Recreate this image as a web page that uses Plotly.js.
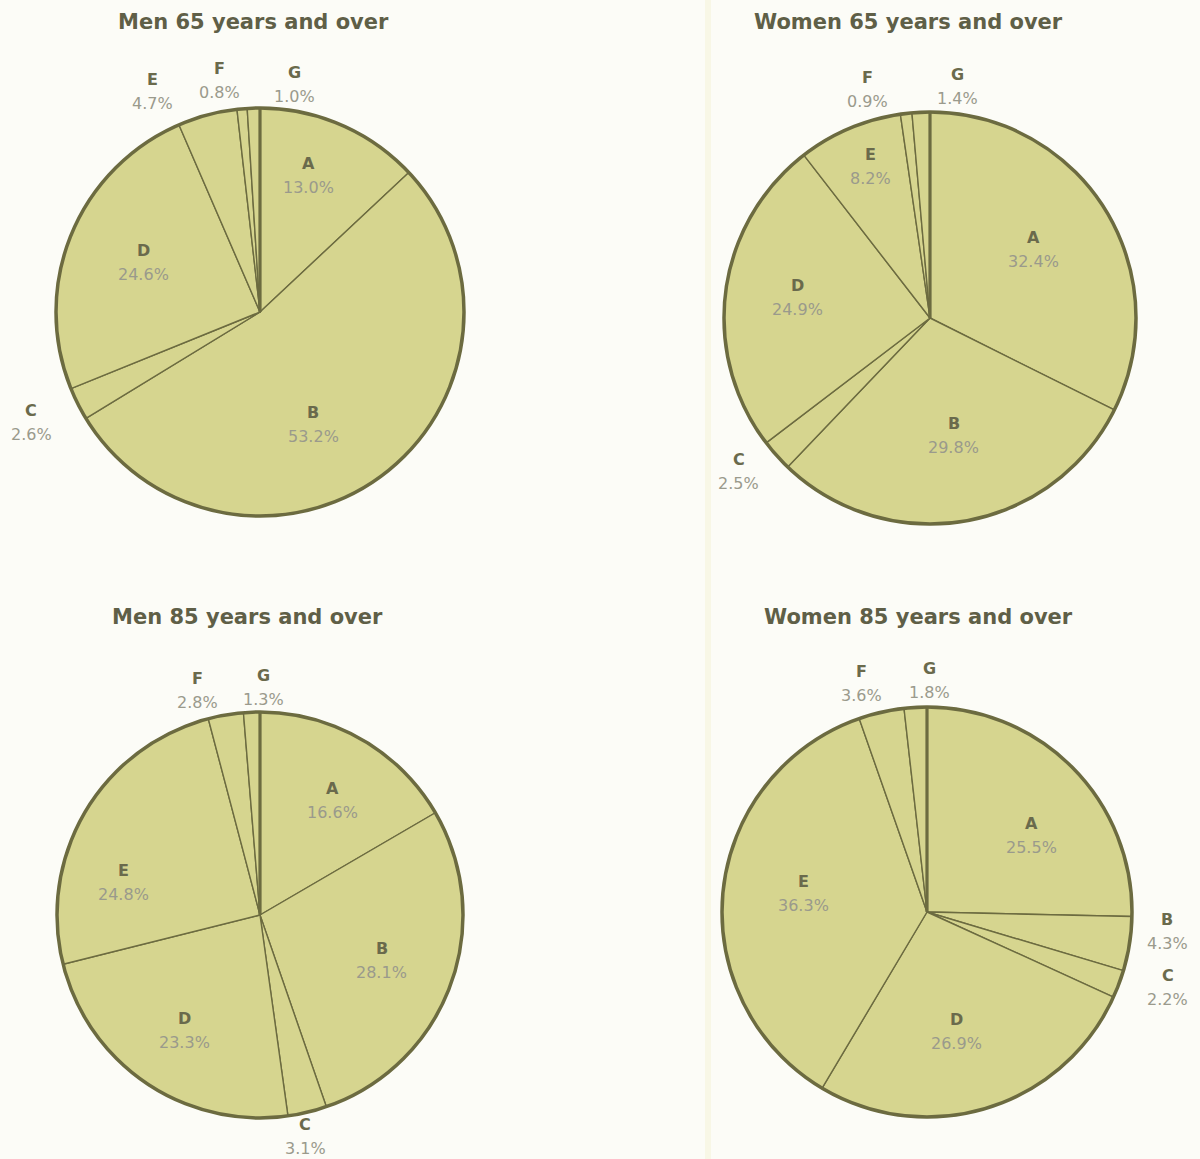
<!DOCTYPE html>
<html>
<head>
<meta charset="utf-8">
<script src="https://cdn.plot.ly/plotly-3.0.1.min.js"></script>
<style>
  html, body { margin: 0; padding: 0; background: #fcfcf7; }
  #chart { width: 1200px; height: 1159px; }
</style>
</head>
<body>
<div id="chart"></div>
<script>
// ---- data ----
const categories = ['A', 'B', 'C', 'D', 'E', 'F', 'G'];
const men65   = [13.0, 53.2, 2.6, 24.6, 4.7, 0.8, 1.0];
const women65 = [32.4, 29.8, 2.5, 24.9, 8.2, 0.9, 1.4];
const men85   = [16.6, 28.1, 3.1, 23.3, 24.8, 2.8, 1.3];
const women85 = [25.5, 4.3, 2.2, 26.9, 36.3, 3.6, 1.8];
const titles = ['Men 65 years and over', 'Women 65 years and over',
                'Men 85 years and over', 'Women 85 years and over'];

// ---- layout / style ----
const W = 1200, H = 1159;
const FILL = '#d6d58f';
const EDGE = '#6c6b40';
const LETTER = '#6a6a4c';
const PCT = '#9a9a8c';
const FONT = 'DejaVu Sans, Open Sans, sans-serif';

// label placement: [radius factor, angle shift in degrees] per slice
const charts = [
  { values: men65, title: titles[0], cx: 260, cy: 312, r: 204, tx: 253, ty: 22,
    lab: [[0.71,-4],[0.61,12],[1.245,1],[0.62,1],[1.2,-11],[1.15,-5],[1.13,10.4]] },
  { values: women65, title: titles[1], cx: 930, cy: 318, r: 206, tx: 908, ty: 22,
    lab: [[0.6,-1.7],[0.58,-1.6],[1.19,3.1],[0.65,1.5],[0.79,1.4],[1.15,-8.6],[1.13,9.2]] },
  { values: men85, title: titles[2], cx: 260, cy: 915, r: 203, tx: 247, ty: 617,
    lab: [[0.67,2.5],[0.64,0],[1.115,2],[0.68,-1],[0.69,-17],[1.15,-5.9],[1.12,3.1]] },
  { values: women85, title: titles[3], cx: 927, cy: 912, r: 205, tx: 918, ty: 617,
    lab: [[0.63,8.2],[1.175,-4.2],[1.23,-3.1],[0.6,3.4],[0.61,2.6],[1.16,-3.2],[1.13,3.9]] }
];

const px = x => x / W;
const py = y => 1 - y / H;

const data = [];
const annotations = [];
const shapes = [];

// faint vertical band in the scan
shapes.push({ type: 'rect', xref: 'paper', yref: 'paper', x0: px(705), x1: px(711), y0: 0, y1: 1,
  fillcolor: '#f8f7e6', line: { width: 0 }, layer: 'below' });

charts.forEach(c => {
  data.push({
    type: 'pie',
    labels: categories,
    values: c.values,
    sort: false,
    direction: 'clockwise',
    rotation: 0,
    textinfo: 'none',
    hoverinfo: 'label+percent',
    showlegend: false,
    marker: { colors: categories.map(() => FILL), line: { color: EDGE, width: 1.4 } },
    domain: { x: [px(c.cx - c.r), px(c.cx + c.r)], y: [py(c.cy + c.r), py(c.cy - c.r)] }
  });
  // outer rim
  shapes.push({ type: 'circle', xref: 'paper', yref: 'paper',
    x0: px(c.cx - c.r), x1: px(c.cx + c.r), y0: py(c.cy + c.r), y1: py(c.cy - c.r),
    line: { color: EDGE, width: 3.5 } });
  // thicker start spoke at 12 o'clock
  shapes.push({ type: 'line', xref: 'paper', yref: 'paper',
    x0: px(c.cx), x1: px(c.cx), y0: py(c.cy), y1: py(c.cy - c.r),
    line: { color: EDGE, width: 3.2 } });
  // title
  annotations.push({ xref: 'paper', yref: 'paper', x: px(c.tx), y: py(c.ty),
    xanchor: 'center', yanchor: 'middle', showarrow: false, text: '<b>' + c.title + '</b>',
    font: { family: FONT, size: 21, color: '#5f5f47' } });
  // slice labels
  const total = c.values.reduce((a, b) => a + b, 0);
  let cum = 0;
  c.values.forEach((v, i) => {
    const mid = (cum + v / 2) / total * 360 + c.lab[i][1];
    cum += v;
    const rad = mid * Math.PI / 180;
    const rr = c.lab[i][0] * c.r;
    const x = c.cx + rr * Math.sin(rad);
    const y = c.cy - rr * Math.cos(rad);
    annotations.push({ xref: 'paper', yref: 'paper', x: px(x), y: py(y - 12),
      xanchor: 'center', yanchor: 'middle', showarrow: false,
      text: '<b>' + categories[i] + '</b>',
      font: { family: FONT, size: 16, color: LETTER } });
    annotations.push({ xref: 'paper', yref: 'paper', x: px(x), y: py(y + 12),
      xanchor: 'center', yanchor: 'middle', showarrow: false,
      text: v.toFixed(1) + '%',
      font: { family: FONT, size: 16, color: PCT } });
  });
});

const layout = {
  width: W, height: H,
  margin: { l: 0, r: 0, t: 0, b: 0 },
  paper_bgcolor: '#fcfcf7',
  plot_bgcolor: '#fcfcf7',
  showlegend: false,
  annotations: annotations,
  shapes: shapes
};

Plotly.newPlot('chart', data, layout, { displayModeBar: false, staticPlot: true });
</script>
</body>
</html>
